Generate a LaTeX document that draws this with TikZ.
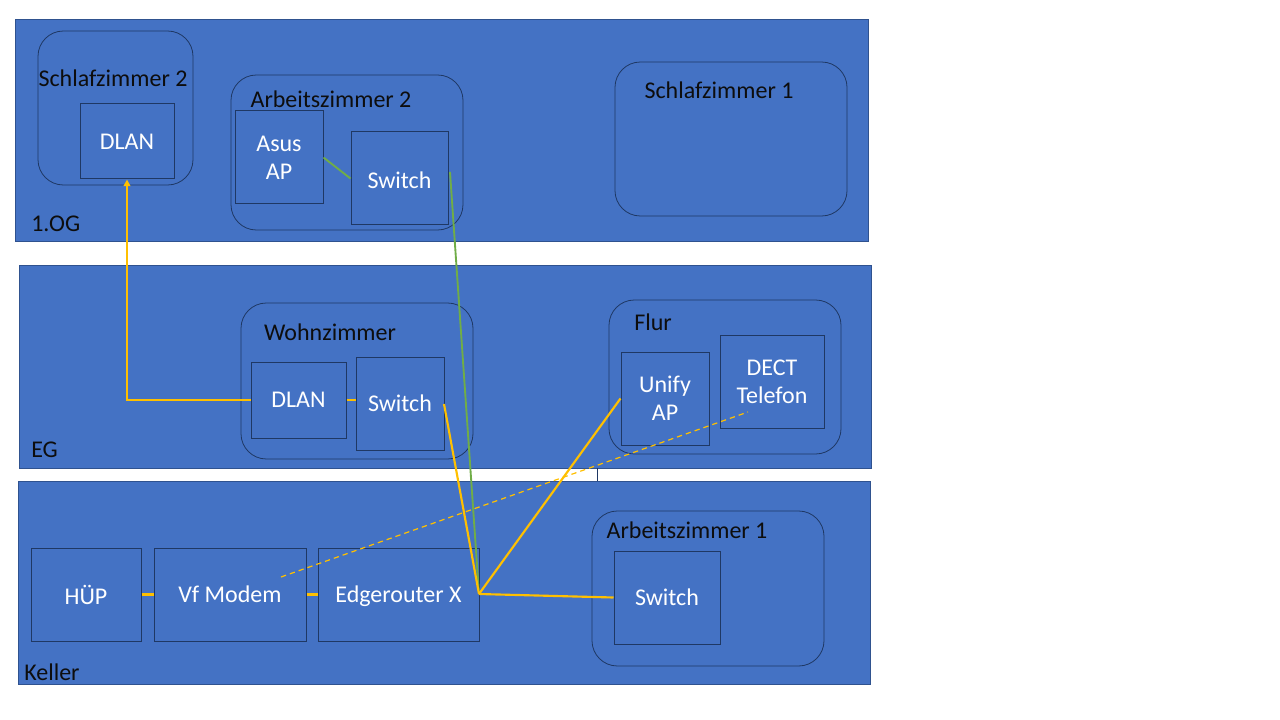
\documentclass[tikz,border=0pt]{standalone}
\usepackage{fontspec}
\setmainfont{Carlito}
\usetikzlibrary{fit,arrows.meta}
\definecolor{fillblue}{HTML}{4472C4}
\definecolor{edgeblue}{HTML}{2F528F}
\definecolor{navy}{HTML}{1F3864}
\definecolor{cyellow}{HTML}{FFC000}
\definecolor{cgreen}{HTML}{70AD47}
\begin{document}
\begin{tikzpicture}[x=0.75pt,y=-0.75pt,
  floor/.style={draw=edgeblue, fill=fillblue, line width=0.75pt, inner sep=0pt},
  room/.style={draw=navy, line width=0.6pt, rounded corners=19pt, inner sep=0pt},
  dev/.style={draw=navy, line width=0.75pt, inner sep=0pt},
  devtext/.style={text=white, align=center, inner sep=0pt, font=\fontsize{18}{21}\selectfont},
  lbl/.style={text=black!95, font=\fontsize{18}{21}\selectfont, inner sep=0pt},
  ylink/.style={draw=cyellow, line width=1.6pt},
  glink/.style={draw=cgreen, line width=1.4pt},
  dlink/.style={draw=cyellow, line width=0.9pt, dash pattern=on 4pt off 3pt}]
\useasboundingbox[fill=white] (0,0) rectangle (1280,720);
% floors
\node[floor, fit={(15,20)(868,242)}] (og) {};
\node[floor, fit={(19,265)(871,468)}] (eg) {};
\node[floor, fit={(18,481)(870,684)}] (kel) {};
\node[lbl, anchor=west] (ogl) at (31,224) {1.OG};
\node[lbl, anchor=west] (egl) at (31,450) {EG};
\node[lbl, anchor=west] (kell) at (24,672) {Keller};
\coordinate (tickA) at (597,468);
\coordinate (tickB) at (597,481);
\draw[navy, line width=0.5pt] (tickA) -- (tickB);
% 1.OG rooms
\node[room, fit={(38,31)(193,185)}] (sz2) {};
\node[lbl] (sz2l) at (113,78) {Schlafzimmer 2};
\node[dev, fit={(80,104)(174,179)}, label={[devtext]center:DLAN}] (dlan1) {};
\node[room, fit={(231,75)(463,230)}] (az2) {};
\node[lbl] (az2l) at (331,99) {Arbeitszimmer 2};
\node[dev, fit={(235,111)(323,204)}, label={[devtext]center:{Asus\\AP}}] (asus) {};
\node[dev, fit={(351,132)(448,225)}, label={[devtext,yshift=-1.5pt]center:Switch}] (sw1) {};
\node[room, fit={(615,62)(847,216)}] (sz1) {};
\node[lbl] (sz1l) at (719,90) {Schlafzimmer 1};
% EG rooms
\node[room, fit={(241,303)(473,459)}] (wz) {};
\node[lbl] (wzl) at (330,332) {Wohnzimmer};
\node[dev, fit={(251,362)(346,438)}, label={[devtext]center:DLAN}] (dlan2) {};
\node[dev, fit={(356,357)(444,450)}, label={[devtext]center:Switch}] (sw2) {};
\node[room, fit={(609,300)(841,454)}] (flur) {};
\node[lbl] (flurl) at (653,322) {Flur};
\node[dev, fit={(621,352)(709,445)}, label={[devtext]center:{Unify\\AP}}] (unify) {};
\node[dev, fit={(720,335)(824,428)}, label={[devtext]center:{DECT\\Telefon}}] (dect) {};
% Keller
\node[dev, fit={(31,548)(141,641)}, label={[devtext]center:HÜP}] (hup) {};
\node[dev, fit={(154,548)(306,641)}, label={[devtext]center:Vf Modem}] (modem) {};
\node[dev, fit={(318,548)(479,641)}, label={[devtext,yshift=-1.5pt]center:Edgerouter X}] (edge) {};
\node[room, fit={(592,511)(824,666)}] (az1) {};
\node[lbl] (az1l) at (687,530) {Arbeitszimmer 1};
\node[dev, fit={(614,551)(720,644)}, label={[devtext]center:Switch}] (sw3) {};
% connectors
\coordinate (er) at (479,594);
\coordinate (sw1p) at (450,172);
\coordinate (sw2p) at (444,404);
\coordinate (modp) at (281,577);
\coordinate (dectp) at (748,412);
\draw[glink] (sw1p) -- (er);
\draw[glink] (asus.east) -- (sw1.west);
\draw[ylink, -{Triangle[length=5pt,width=5pt]}] (dlan2.west) -| (dlan1.south);
\draw[ylink] (dlan2.east) -- (sw2.west |- dlan2.east);
\draw[ylink] (sw2p) -- (er);
\draw[ylink] (er) -- (unify.west);
\draw[ylink] (er) -- (sw3.west);
\draw[ylink] (hup.east) -- (modem.west);
\draw[ylink] (modem.east) -- (edge.west);
\draw[dlink] (modp) -- (dectp);
\end{tikzpicture}
\end{document}
